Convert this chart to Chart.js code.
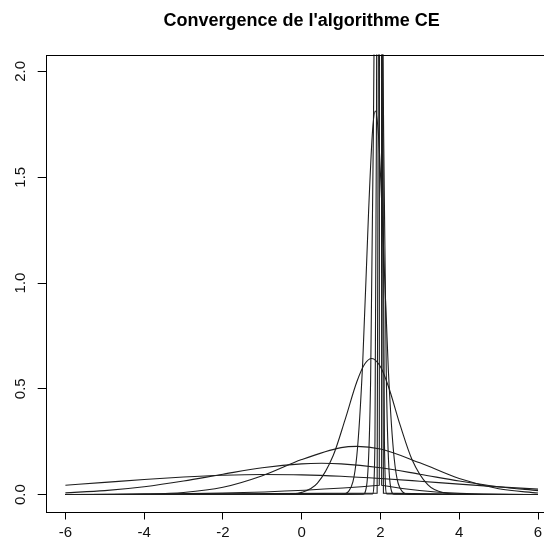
<!DOCTYPE html>
<html lang="fr">
<head>
<meta charset="UTF-8">
<title>Convergence de l'algorithme CE</title>
<script src="https://cdn.jsdelivr.net/npm/chart.js"></script>
<style>
  html, body { margin: 0; padding: 0; overflow: hidden; background: #fff; }
  #wrap { width: 544px; height: 544px; overflow: hidden; }
</style>
</head>
<body>
<div id="wrap"><canvas id="ceChart" width="600" height="544"></canvas></div>
<script>
  const chartTitle = "Convergence de l'algorithme CE";
  const xTicks = [-6, -4, -2, 0, 2, 4, 6];
  const yTicks = [0, 0.5, 1, 1.5, 2];

  // one density per iteration
  const it1X = [-6, -5, -4, -3, -2, -1, 0, 1, 2, 3, 4, 5, 6];
  const it1Y = [0.0442, 0.0576, 0.0711, 0.0828, 0.0912, 0.0949, 0.0933, 0.0867, 0.0761, 0.0631, 0.0494, 0.0366, 0.0256];

  const it2X = [-6, -5, -4, -3, -2, -1, 0, 0.5, 1, 2, 3, 4, 5, 6];
  const it2Y = [0.0082, 0.0186, 0.0369, 0.0638, 0.0962, 0.1267, 0.1453, 0.1478, 0.1453, 0.1267, 0.0962, 0.0638, 0.0369, 0.0186];

  const it3X = [-6, -5, -4, -3, -2, -1, 0, 1, 1.4, 2, 3, 4, 5, 6];
  const it3Y = [0, 0.0003, 0.002, 0.0097, 0.0345, 0.0891, 0.1655, 0.222, 0.228, 0.215, 0.150, 0.0756, 0.0275, 0.0072];

  const it4X = [-6, -0.5, 0, 0.4, 0.8, 1.1, 1.4, 1.6, 1.78, 2.0, 2.2, 2.5, 2.8, 3.2, 3.6, 4.2, 6];
  const it4Y = [0, 0.0007, 0.0104, 0.054, 0.1845, 0.353, 0.533, 0.617, 0.6435, 0.604, 0.512, 0.328, 0.166, 0.0467, 0.0087, 0.0003, 0];

  const it5X = [-6, 1.0, 1.2, 1.4, 1.55, 1.7, 1.8, 1.87, 1.95, 2.05, 2.2, 2.35, 2.55, 2.75, 6];
  const it5Y = [0, 0.0007, 0.0176, 0.185, 0.629, 1.345, 1.723, 1.813, 1.697, 1.298, 0.589, 0.168, 0.0152, 0.0006, 0];

  const it6X = [-6, 1.55, 1.65, 1.75, 1.82, 1.88, 1.95, 2.02, 2.08, 2.15, 2.25, 2.35, 6];
  const it6Y = [0, 0.0013, 0.0443, 0.540, 1.714, 3.12, 3.99, 3.12, 1.714, 0.540, 0.0443, 0.0013, 0];

  const it7X = [-6, 1.8, 1.86, 1.9, 1.94, 1.98, 2.02, 2.06, 2.1, 2.16, 6];
  const it7Y = [0, 0.003, 0.254, 1.83, 5.98, 8.87, 5.98, 1.83, 0.254, 0.003, 0];

  const it8X = [-6, 1.915, 1.955, 1.975, 1.995, 2.015, 2.035, 2.075, 6];
  const it8Y = [0, 0.0067, 2.70, 12.1, 19.95, 12.1, 2.70, 0.0067, 0];

  const it9X = [-6, 1.97, 1.985, 1.992, 2.0, 2.008, 2.015, 2.03, 6];
  const it9Y = [0, 0.044, 8.6, 30.3, 49.9, 30.3, 8.6, 0.044, 0];

  const curves = [
    [it1X, it1Y], [it2X, it2Y], [it3X, it3Y], [it4X, it4Y], [it5X, it5Y],
    [it6X, it6Y], [it7X, it7Y], [it8X, it8Y], [it9X, it9Y]
  ];

  const FONT = '"Liberation Sans", Arial, sans-serif';

  // R style: box round the plot, title centred on the plot, vertical y labels
  const rBox = {
    id: 'rBox',
    afterDraw(chart) {
      const a = chart.chartArea;
      const ctx = chart.ctx;
      ctx.save();
      ctx.strokeStyle = '#000';
      ctx.lineWidth = 1;
      ctx.strokeRect(Math.round(a.left) + 0.5, Math.round(a.top) + 0.5,
        Math.round(a.right - a.left), Math.round(a.bottom - a.top));

      ctx.fillStyle = '#000';
      ctx.font = 'bold 18px ' + FONT;
      ctx.textAlign = 'center';
      ctx.textBaseline = 'middle';
      ctx.fillText(chartTitle, (a.left + a.right) / 2, 21);

      const ys = chart.scales.y;
      ctx.fillStyle = '#111';
      ctx.font = '15px ' + FONT;
      yTicks.forEach(v => {
        ctx.save();
        ctx.translate(21, ys.getPixelForValue(v));
        ctx.rotate(-Math.PI / 2);
        ctx.fillText(v.toFixed(1), 0, 0);
        ctx.restore();
      });
      ctx.restore();
    }
  };

  new Chart(document.getElementById('ceChart'), {
    type: 'line',
    data: {
      datasets: curves.map(c => ({
        data: c[0].map((x, i) => ({ x: x, y: c[1][i] })),
        borderColor: '#1e1e1e',
        borderWidth: 1.1,
        pointRadius: 0,
        fill: false,
        cubicInterpolationMode: 'monotone'
      }))
    },
    options: {
      responsive: false,
      animation: false,
      layout: { padding: { left: 0, right: 42.3, top: 54.5, bottom: 0 } },
      plugins: {
        legend: { display: false },
        tooltip: { enabled: false },
        title: { display: false }
      },
      scales: {
        x: {
          type: 'linear',
          min: -6.5,
          max: 6.5,
          afterBuildTicks: s => { s.ticks = xTicks.map(v => ({ value: v })); },
          afterFit: s => { s.height = 32.5; },
          grid: { drawOnChartArea: false, drawTicks: true, tickLength: 8, color: '#000' },
          border: { display: false },
          ticks: {
            color: '#111',
            font: { family: FONT, size: 15 },
            padding: 4,
            maxRotation: 0,
            autoSkip: false,
            callback: v => String(v)
          }
        },
        y: {
          type: 'linear',
          min: -0.08,
          max: 2.08,
          afterBuildTicks: s => { s.ticks = yTicks.map(v => ({ value: v })); },
          afterFit: s => { s.width = 45.7; },
          grid: { drawOnChartArea: false, drawTicks: true, tickLength: 8, color: '#000' },
          border: { display: false },
          ticks: { display: false }
        }
      }
    },
    plugins: [rBox]
  });
</script>
</body>
</html>
